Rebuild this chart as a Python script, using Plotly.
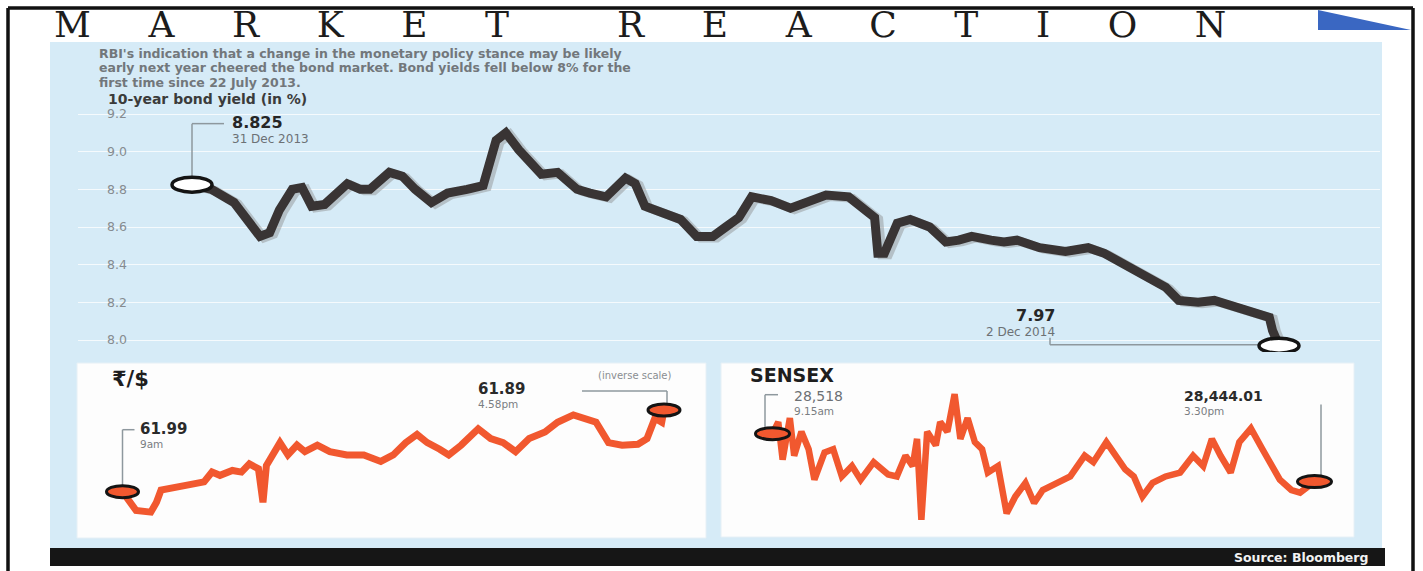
import pandas as pd
import plotly.graph_objects as go

W, H = 1423, 571

# ---------------------------------------------------------------- data
# 10-year government bond yield (in %), 31 Dec 2013 - 2 Dec 2014
bond_dates = [
    "2013-12-31", "2014-01-06", "2014-01-13", "2014-01-17", "2014-01-21", "2014-01-24",
    "2014-01-27", "2014-01-31", "2014-02-03", "2014-02-06", "2014-02-10", "2014-02-17",
    "2014-02-21", "2014-02-24", "2014-03-02", "2014-03-06", "2014-03-10", "2014-03-15",
    "2014-03-20", "2014-03-26", "2014-03-31", "2014-04-04", "2014-04-07", "2014-04-11",
    "2014-04-15", "2014-04-18", "2014-04-23", "2014-04-29", "2014-05-03", "2014-05-08",
    "2014-05-14", "2014-05-17", "2014-05-20", "2014-05-26", "2014-05-31", "2014-06-05",
    "2014-06-10", "2014-06-14", "2014-06-18", "2014-06-22", "2014-06-28", "2014-07-04",
    "2014-07-09", "2014-07-15", "2014-07-22", "2014-07-26", "2014-07-30", "2014-07-31",
    "2014-08-02", "2014-08-06", "2014-08-10", "2014-08-16", "2014-08-21", "2014-08-25",
    "2014-08-29", "2014-09-04", "2014-09-08", "2014-09-12", "2014-09-19", "2014-09-27",
    "2014-10-04", "2014-10-09", "2014-10-14", "2014-10-20", "2014-10-28", "2014-11-01",
    "2014-11-07", "2014-11-12", "2014-11-17", "2014-11-24", "2014-11-29", "2014-11-30",
    "2014-12-02",
]
bond_yield = [
    8.825, 8.80, 8.73, 8.64, 8.55, 8.57,
    8.69, 8.80, 8.81, 8.71, 8.72, 8.83,
    8.80, 8.80, 8.89, 8.87, 8.80, 8.73,
    8.78, 8.80, 8.82, 9.06, 9.10, 9.01,
    8.94, 8.88, 8.89, 8.80, 8.78, 8.76,
    8.86, 8.83, 8.71, 8.67, 8.64, 8.55,
    8.55, 8.60, 8.65, 8.76, 8.74, 8.70,
    8.73, 8.77, 8.76, 8.71, 8.65, 8.46,
    8.46, 8.62, 8.64, 8.60, 8.52, 8.53,
    8.55, 8.53, 8.52, 8.53, 8.49, 8.47,
    8.49, 8.46, 8.41, 8.36, 8.28, 8.21,
    8.20, 8.21, 8.18, 8.15, 8.12, 8.05,
    7.97,
]
yield_ticks = [8.0, 8.2, 8.4, 8.6, 8.8, 9.0, 9.2]

trade_day = "2014-12-02"

# Rupee per US dollar, intraday
inr_times = [
    "09:00", "09:06", "09:12", "09:25", "09:30", "09:34", "09:45", "09:57", "10:12", "10:19",
    "10:26", "10:37", "10:45", "10:52", "11:00", "11:04", "11:07", "11:19", "11:26", "11:34",
    "11:41", "11:52", "12:03", "12:18", "12:33", "12:48", "12:59", "13:10", "13:20", "13:29",
    "13:40", "13:48", "13:59", "14:14", "14:25", "14:36", "14:47", "14:59", "15:13", "15:24",
    "15:38", "15:47", "15:58", "16:09", "16:21", "16:35", "16:43", "16:50", "16:56", "16:58",
]
inr_rate = [
    61.990, 62.003, 62.013, 62.015, 62.003, 61.988, 61.986, 61.982, 61.978, 61.966,
    61.970, 61.964, 61.966, 61.956, 61.962, 62.003, 61.958, 61.930, 61.945, 61.933,
    61.941, 61.933, 61.941, 61.945, 61.945, 61.953, 61.945, 61.930, 61.920, 61.930,
    61.938, 61.945, 61.933, 61.913, 61.925, 61.930, 61.941, 61.925, 61.917, 61.905,
    61.896, 61.900, 61.905, 61.930, 61.933, 61.932, 61.925, 61.900, 61.905, 61.89,
]

# BSE Sensex, intraday
sensex_times = [
    "09:15", "09:19", "09:22", "09:27", "09:30", "09:35", "09:40", "09:44", "09:51", "09:57",
    "10:03", "10:10", "10:16", "10:25", "10:35", "10:41", "10:47", "10:52", "10:55", "10:58",
    "11:02", "11:08", "11:11", "11:16", "11:21", "11:25", "11:30", "11:35", "11:40", "11:44",
    "11:51", "11:57", "12:03", "12:10", "12:16", "12:22", "12:32", "12:41", "12:51", "12:57",
    "13:06", "13:13", "13:19", "13:25", "13:31", "13:38", "13:47", "13:57", "14:06", "14:13",
    "14:19", "14:25", "14:32", "14:38", "14:46", "14:54", "15:00", "15:06", "15:14", "15:20",
    "15:30",
]
sensex_level = [
    28518, 28536, 28478, 28542, 28484, 28521, 28494, 28447, 28489, 28494,
    28452, 28468, 28447, 28474, 28455, 28452, 28484, 28468, 28510, 28385,
    28521, 28500, 28536, 28521, 28579, 28510, 28542, 28505, 28494, 28458,
    28468, 28395, 28421, 28442, 28411, 28431, 28442, 28452, 28484, 28474,
    28505, 28484, 28463, 28452, 28421, 28442, 28452, 28458, 28484, 28468,
    28510, 28484, 28458, 28505, 28526, 28494, 28468, 28447, 28431, 28427,
    28444.01,
]

# ---------------------------------------------------------------- styling
LIGHT_BLUE = "#d6ebf7"
ORANGE = "#f1582f"
DARK = "#393434"
FONT = "DejaVu Sans, Noto Sans, sans-serif"


def px_x(p):
    return p / W


def px_y(p):
    return 1 - p / H


def fit_range(va, pa, vb, pb, p_lo, p_hi):
    """Axis range whose ends sit at pixels p_lo/p_hi, given two value<->pixel anchors."""
    slope = (vb - va) / (pb - pa)
    return [va + slope * (p_lo - pa), va + slope * (p_hi - pa)]


def as_str(v):
    return v.isoformat() if isinstance(v, pd.Timestamp) else v


def clock(ts):
    t = pd.Timestamp(ts)
    h = t.hour % 12 or 12
    mm = f".{t.minute:02d}" if t.minute else ""
    return f"{h}{mm}{'am' if t.hour < 12 else 'pm'}"


bond_x = pd.to_datetime(bond_dates)
inr_x = pd.to_datetime([f"{trade_day} {t}" for t in inr_times])
sensex_x = pd.to_datetime([f"{trade_day} {t}" for t in sensex_times])

# axis frames (pixel boxes) for the three charts
main_box = dict(left=78, right=1380, top=100, bottom=352)
inr_box = dict(left=77, right=706, top=363, bottom=538)
sx_box = dict(left=721, right=1354, top=363, bottom=537)

main_xr = fit_range(bond_x[0], 192, bond_x[-1], 1279, main_box["left"], main_box["right"])
main_yr = fit_range(9.2, 114, 8.0, 340, main_box["bottom"], main_box["top"])
inr_xr = fit_range(inr_x[0], 122.5, inr_x[-1], 664, inr_box["left"], inr_box["right"])
inr_yr = fit_range(inr_rate[0], 491.7, inr_rate[-1], 410, inr_box["bottom"], inr_box["top"])
sx_xr = fit_range(sensex_x[0], 772.5, sensex_x[-1], 1314.5, sx_box["left"], sx_box["right"])
sx_yr = fit_range(sensex_level[0], 433.7, sensex_level[-1], 481.6, sx_box["bottom"], sx_box["top"])

fig = go.Figure()

# bond yield: soft grey drop shadow, then the thick dark line
fig.add_trace(go.Scatter(
    x=bond_x + pd.Timedelta(hours=30), y=[v - 0.008 for v in bond_yield],
    mode="lines", line=dict(color="rgba(140,140,140,0.45)", width=9),
    hoverinfo="skip", xaxis="x", yaxis="y",
))
fig.add_trace(go.Scatter(
    x=bond_x, y=bond_yield, mode="lines", line=dict(color=DARK, width=9),
    name="10-year bond yield", xaxis="x", yaxis="y",
))
fig.add_trace(go.Scatter(
    x=inr_x, y=inr_rate, mode="lines", line=dict(color=ORANGE, width=7),
    name="₹/$", xaxis="x2", yaxis="y2",
))
fig.add_trace(go.Scatter(
    x=sensex_x, y=sensex_level, mode="lines", line=dict(color=ORANGE, width=6.5),
    name="SENSEX", xaxis="x3", yaxis="y3",
))


def box_domain(b):
    return [px_x(b["left"]), px_x(b["right"])], [px_y(b["bottom"]), px_y(b["top"])]


hidden = dict(visible=False, showgrid=False, zeroline=False, fixedrange=True)
mx, my = box_domain(main_box)
ix, iy = box_domain(inr_box)
sxd, syd = box_domain(sx_box)

fig.update_layout(
    width=W, height=H, margin=dict(l=0, r=0, t=0, b=0),
    paper_bgcolor="white", plot_bgcolor="rgba(0,0,0,0)", showlegend=False,
    xaxis=dict(domain=mx, range=[as_str(v) for v in main_xr], type="date", **hidden),
    yaxis=dict(
        domain=my, range=main_yr, anchor="x", tickvals=yield_ticks,
        ticktext=[f"{t:.1f}" for t in yield_ticks], ticklabelposition="inside",
        ticklabelstandoff=26, ticks="", showgrid=True, gridcolor="rgba(255,255,255,0.75)",
        gridwidth=1, zeroline=False, showline=False, fixedrange=True,
        tickfont=dict(family=FONT, size=12.5, color="#868b90"),
    ),
    xaxis2=dict(domain=ix, range=[as_str(v) for v in inr_xr], type="date", anchor="y2", **hidden),
    yaxis2=dict(domain=iy, range=inr_yr, anchor="x2", **hidden),
    xaxis3=dict(domain=sxd, range=[as_str(v) for v in sx_xr], type="date", anchor="y3", **hidden),
    yaxis3=dict(domain=syd, range=sx_yr, anchor="x3", **hidden),
)

# ---------------------------------------------------------------- page furniture
shapes = [
    dict(type="rect", xref="paper", yref="paper", x0=px_x(50), x1=px_x(1382),
         y0=px_y(548), y1=px_y(42), fillcolor=LIGHT_BLUE, line_width=0, layer="below"),
    dict(type="rect", xref="paper", yref="paper", x0=px_x(inr_box["left"]), x1=px_x(inr_box["right"]),
         y0=px_y(inr_box["bottom"]), y1=px_y(inr_box["top"]), fillcolor="#fdfdfd",
         line=dict(color="#e6f0f6", width=1), layer="below"),
    dict(type="rect", xref="paper", yref="paper", x0=px_x(sx_box["left"]), x1=px_x(sx_box["right"]),
         y0=px_y(sx_box["bottom"]), y1=px_y(sx_box["top"]), fillcolor="#fdfdfd",
         line=dict(color="#e6f0f6", width=1), layer="below"),
    dict(type="rect", xref="paper", yref="paper", x0=px_x(50), x1=px_x(1385),
         y0=px_y(566), y1=px_y(548), fillcolor="#161616", line_width=0, layer="below"),
    dict(type="path", xref="paper", yref="paper",
         path=f"M {px_x(1318)},{px_y(10)} L {px_x(1318)},{px_y(30)} L {px_x(1411)},{px_y(30)} Z",
         fillcolor="#3a67c2", line_width=0, layer="below"),
    # outer frame
    dict(type="line", xref="paper", yref="paper", x0=px_x(8), x1=px_x(1413), y0=px_y(8), y1=px_y(8),
         line=dict(color="#111", width=3.5)),
    dict(type="line", xref="paper", yref="paper", x0=px_x(8), x1=px_x(8), y0=px_y(8), y1=0,
         line=dict(color="#111", width=3.5)),
    dict(type="line", xref="paper", yref="paper", x0=px_x(1413), x1=px_x(1413), y0=px_y(8), y1=0,
         line=dict(color="#111", width=3.5)),
]


def connector(xr, yr, x, y, dx0, dy0, dx1, dy1):
    return dict(type="line", xref=xr, yref=yr, xsizemode="pixel", ysizemode="pixel",
                xanchor=as_str(x), yanchor=y, x0=dx0, x1=dx1, y0=dy0, y1=dy1,
                line=dict(color="#8e989e", width=1.5), layer="above")


def ring(xr, yr, x, y, w, h, fill, lw):
    return dict(type="circle", xref=xr, yref=yr, xsizemode="pixel", ysizemode="pixel",
                xanchor=as_str(x), yanchor=y, x0=-w / 2, x1=w / 2, y0=-h / 2, y1=h / 2,
                fillcolor=fill, line=dict(color="#141414", width=lw), layer="above")


# bond yield end points
b0, b1 = (bond_x[0], bond_yield[0]), (bond_x[-1], bond_yield[-1])
shapes += [
    connector("x", "y", *b0, 0, 7, 0, 61),
    connector("x", "y", *b0, 0, 61, 32, 61),
    connector("x", "y", *b1, -229, 1, -20, 1),
    connector("x", "y", *b1, -229, 1, -229, 8),
    ring("x", "y", *b0, 40, 15, "white", 3.5),
    ring("x", "y", *b1, 40, 15, "white", 3.5),
]
# rupee end points
r0, r1 = (inr_x[0], inr_rate[0]), (inr_x[-1], inr_rate[-1])
shapes += [
    connector("x2", "y2", *r0, 0, 5, 0, 62),
    connector("x2", "y2", *r0, 0, 62, 12, 62),
    connector("x2", "y2", *r1, 3, 5, 3, 19),
    connector("x2", "y2", *r1, -82, 19, 3, 19),
    ring("x2", "y2", *r0, 32, 12, ORANGE, 3),
    ring("x2", "y2", *r1, 32, 12, ORANGE, 3),
]
# sensex end points
s0, s1 = (sensex_x[0], sensex_level[0]), (sensex_x[-1], sensex_level[-1])
shapes += [
    connector("x3", "y3", *s0, -7.5, 4, -7.5, 39),
    connector("x3", "y3", *s0, -7.5, 39, 5.5, 39),
    connector("x3", "y3", *s1, 6.5, 5, 6.5, 77),
    ring("x3", "y3", *s0, 34, 12, ORANGE, 3),
    ring("x3", "y3", *s1, 34, 12, ORANGE, 3),
]
fig.update_layout(shapes=shapes)

# ---------------------------------------------------------------- text
ann = []


def paper_text(text, x, y, size, color, bold=False, anchor="left", family=FONT):
    ann.append(dict(
        text=f"<b>{text}</b>" if bold else text, xref="paper", yref="paper",
        x=px_x(x), y=px_y(y), xanchor=anchor, yanchor="middle", showarrow=False,
        font=dict(family=family, size=size, color=color),
    ))


def point_text(text, xr, yr, pt, dx, dy, size, color, bold=False, anchor="left"):
    ann.append(dict(
        text=f"<b>{text}</b>" if bold else text, xref=xr, yref=yr,
        x=as_str(pt[0]), y=pt[1], xshift=dx, yshift=dy, xanchor=anchor, yanchor="middle",
        showarrow=False, font=dict(family=FONT, size=size, color=color),
    ))


# wide, letter-spaced masthead
headline = "MARKET REACTION"
gap = "\u2003\u2002\u200a"
spaced = gap.join(headline).replace(gap + " " + gap, "\u2003\u2003\u2003")
paper_text(spaced, 52, 24.5, 36, "#1c1c1c", family="DejaVu Serif, Liberation Serif, serif")

intro = [
    "RBI's indication that a change in the monetary policy stance may be likely",
    "early next year cheered the bond market. Bond yields fell below 8% for the",
    "first time since 22 July 2013.",
]
for i, line in enumerate(intro):
    paper_text(line, 97, 53 + 14.8 * i, 12.5, "#72777b", bold=True)

paper_text("10-year bond yield (in %)", 106, 98.5, 14, "#3b3b3b", bold=True)


def day_label(ts):
    return f"{ts.day} {ts.strftime('%b %Y')}"


point_text(f"{b0[1]:,}", "x", "y", b0, 38, 62.5, 16, "#262626", bold=True)
point_text(day_label(b0[0]), "x", "y", b0, 38, 45.5, 12, "#6c7175")
point_text(f"{b1[1]:,}", "x", "y", b1, -222, 30.6, 16, "#262626", bold=True, anchor="right")
point_text(day_label(b1[0]), "x", "y", b1, -222, 13.6, 12, "#6c7175", anchor="right")

paper_text("₹/$", 110, 379, 21, "#1e1e1e", bold=True)
paper_text("(inverse scale)", 674, 376, 10, "#8a8e92", anchor="right")
point_text(f"{r0[1]:,}", "x2", "y2", r0, 15.5, 62.7, 15, "#2a2a2a", bold=True)
point_text(clock(r0[0]), "x2", "y2", r0, 15.5, 47.7, 10.5, "#7a7e82")
point_text(f"{r1[1]:,}", "x2", "y2", r1, -188, 21, 15, "#2a2a2a", bold=True)
point_text(clock(r1[0]), "x2", "y2", r1, -188, 6, 10.5, "#7a7e82")

paper_text("SENSEX", 748, 375, 19, "#1e1e1e", bold=True)
point_text(f"{s0[1]:,}", "x3", "y3", s0, 19.5, 37.7, 14, "#6c7074")
point_text(clock(s0[0]), "x3", "y3", s0, 19.5, 23.2, 10.5, "#7a7e82")
point_text(f"{s1[1]:,}", "x3", "y3", s1, -132.5, 85.6, 14, "#2a2a2a", bold=True)
point_text(clock(s1[0]), "x3", "y3", s1, -132.5, 71.1, 10.5, "#7a7e82")

paper_text("Source: Bloomberg", 1370, 557, 12.5, "#f2f2f2", bold=True, anchor="right")

fig.update_layout(annotations=ann)
fig.write_html("out.html")
